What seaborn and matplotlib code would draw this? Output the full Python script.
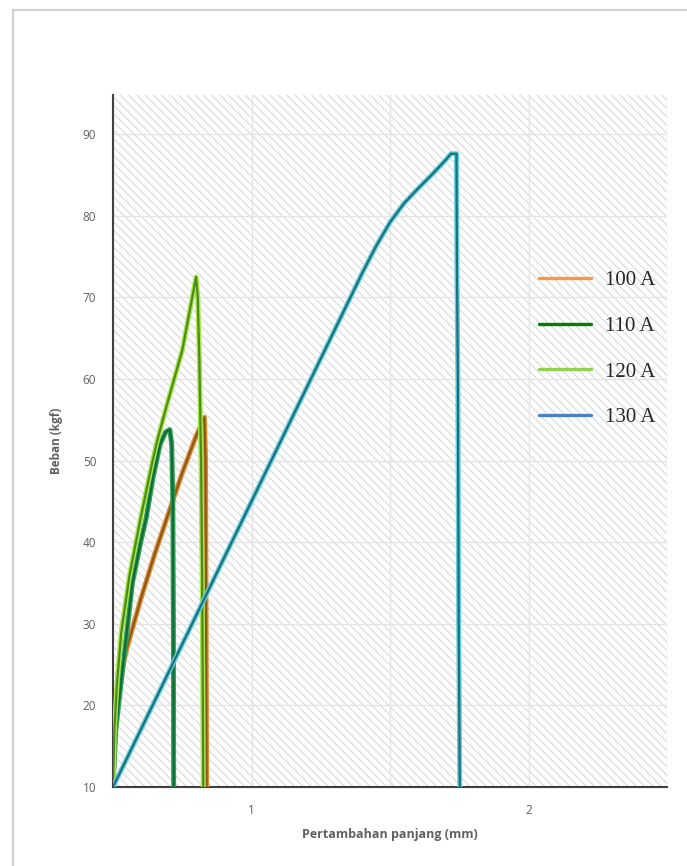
import matplotlib
matplotlib.use("Agg")
import matplotlib.pyplot as plt
import matplotlib.patheffects as pe
from matplotlib.lines import Line2D
from matplotlib.patches import Rectangle
import seaborn as sns

# data (x: Pertambahan panjang mm, y: Beban kgf)
x_100 = [0.50, 0.505, 0.515, 0.53, 0.55, 0.60, 0.65, 0.70, 0.75, 0.80, 0.83, 0.834, 0.836, 0.838]
y_100 = [10, 15, 20, 24, 27, 33, 38.5, 43.5, 48.5, 53, 55.3, 50, 30, 10]

x_110 = [0.50, 0.51, 0.53, 0.55, 0.57, 0.60, 0.62, 0.645, 0.67, 0.69, 0.705, 0.712, 0.716, 0.718, 0.719]
y_110 = [10, 17, 23, 29, 35, 40, 43, 48, 52, 53.5, 53.8, 52, 45, 30, 10]

x_120 = [0.50, 0.505, 0.515, 0.53, 0.56, 0.60, 0.64, 0.66, 0.70, 0.75, 0.80, 0.806, 0.812, 0.818, 0.822, 0.826]
y_120 = [10, 17, 23, 29, 36, 43, 49.5, 52.5, 57.5, 63.5, 72.5, 70, 62, 50, 35, 10]

x_130 = [0.50, 0.60, 0.70, 0.80, 0.90, 1.00, 1.10, 1.20, 1.30, 1.40, 1.45, 1.50,
         1.55, 1.60, 1.65, 1.70, 1.72, 1.74, 1.742, 1.745, 1.748, 1.752]
y_130 = [10, 17, 24, 31, 38, 45, 52, 59, 66, 73, 76.3, 79.2,
         81.5, 83.3, 85, 86.8, 87.6, 87.6, 72, 60, 30, 10]

labels = ["100 A", "110 A", "120 A", "130 A"]
core_colors = ["#8a5a1a", "#0f6b3a", "#4f8a1c", "#1f6f7a"]
glow_colors = ["#e08a30", "#35a055", "#a6e64a", "#62cfe0"]
legend_colors = ["#f79646", "#008000", "#92d050", "#4f81bd"]

series = [(x_100, y_100), (x_110, y_110), (x_120, y_120), (x_130, y_130)]

sns.set_style("white")
plt.rcParams["font.family"] = ["Open Sans", "DejaVu Sans"]
plt.rcParams["hatch.color"] = "#d9d9d9"
plt.rcParams["hatch.linewidth"] = 0.8

fig = plt.figure(figsize=(6.87, 8.66), dpi=100)
ax = fig.add_axes([113 / 687, 1 - 787 / 866, 554 / 687, 692 / 866])

# hatched background
ax.add_patch(Rectangle((0, 0), 1, 1, transform=ax.transAxes, facecolor="white",
                       edgecolor="#d9d9d9", hatch="\\\\\\\\", linewidth=0, zorder=0))

for (xs, ys), core, glow in zip(series, core_colors, glow_colors):
    sns.lineplot(x=xs, y=ys, sort=False, color=core, linewidth=1.6, ax=ax, zorder=3,
                 path_effects=[pe.Stroke(linewidth=3.6, foreground=glow), pe.Normal()])

ax.set_xlim(0.5, 2.5)
ax.set_ylim(10, 94.8)
ax.set_xticks([1, 2])
ax.set_yticks(range(10, 91, 10))
ax.set_xticks([0.5, 1.5, 2.5], minor=True)
ax.grid(True, which="both", color="#e4e4e4", linewidth=1.0, zorder=1)
ax.set_axisbelow(True)
ax.tick_params(axis="both", which="both", length=0, colors="#606060", labelsize=8.5)
ax.tick_params(axis="x", pad=12)
ax.tick_params(axis="y", pad=12)

for side in ["top", "right"]:
    ax.spines[side].set_visible(False)
for side in ["left", "bottom"]:
    ax.spines[side].set_color("#404040")
    ax.spines[side].set_linewidth(1.5)

ax.set_xlabel("Pertambahan panjang (mm)", fontsize=9, fontweight="bold", color="#606060", labelpad=8)
ax.set_ylabel("Beban (kgf)", fontsize=8.5, fontweight="bold", color="#606060", labelpad=14)

handles = [Line2D([0], [0], color=c, linewidth=2.4) for c in legend_colors]
ax.legend(handles, labels, loc="upper left", bbox_to_anchor=(520 / 687, 1 - 252 / 866),
          bbox_transform=fig.transFigure, frameon=False, handlelength=2.5, handletextpad=0.7,
          labelspacing=1.25, prop={"family": "Liberation Serif", "size": 15})

# outer card border
fig.add_artist(Rectangle((13 / 687, -0.05), 1.0, 1 - 10 / 866 + 0.05, transform=fig.transFigure,
                         facecolor="none", edgecolor="#d2d2d2", linewidth=1.6))

fig.savefig("out.png", dpi=100)
plt.close(fig)
